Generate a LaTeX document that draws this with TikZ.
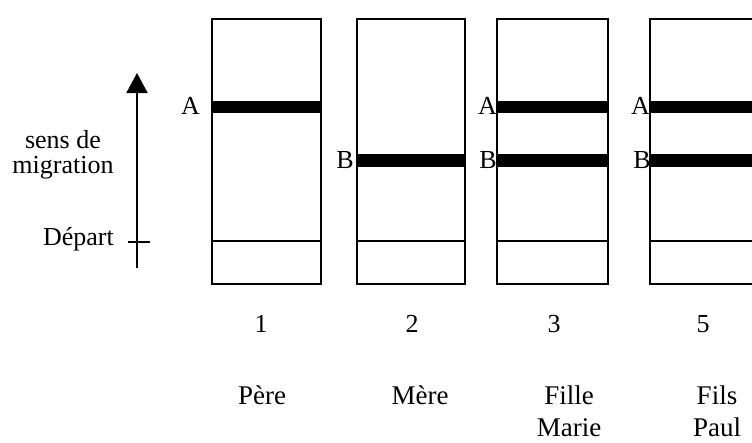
\documentclass[tikz,border=0pt]{standalone}
\usepackage{fontspec}
\setmainfont{Liberation Serif}
\usetikzlibrary{arrows.meta}
\begin{document}
\begin{tikzpicture}[x=1pt,y=-1pt,
  lanebox/.style={line width=1.8pt},
  startline/.style={line width=1.4pt},
  band/.style={fill=black},
  txt/.style={inner sep=0pt,font=\fontsize{26}{33}\selectfont},
  lbl/.style={txt,anchor=base east},
  ctr/.style={txt,anchor=base,align=center},
  namelbl/.style={ctr,font=\fontsize{27}{33}\selectfont}]
\useasboundingbox (0,0) rectangle (752,442);
\clip (0,0) rectangle (752,442);
% lanes
\foreach \l/\r [count=\i] in {212/321,357/465,497/608,650/762}{
  \draw[lanebox] (\l,19) rectangle (\r,284);
  \draw[startline] (\l,241) -- (\r,241);
}
% bands
\fill[band] (212,101) rectangle (321,113);
\fill[band] (357,154) rectangle (465,167);
\fill[band] (497,101) rectangle (608,113);
\fill[band] (497,154) rectangle (608,167);
\fill[band] (650,101) rectangle (762,113);
\fill[band] (650,154) rectangle (762,167);
% band labels
\node[lbl] (a1) at (200,114) {A};
\node[lbl] (b2) at (354,168) {B};
\node[lbl] (a3) at (497,114) {A};
\node[lbl] (b3) at (497,168) {B};
\node[lbl] (a4) at (650,114) {A};
\node[lbl] (b4) at (651,168) {B};
% migration arrow
\coordinate (arrbot) at (137,268);
\coordinate (arrtop) at (137,73);
\draw[line width=1.8pt,-{Triangle[width=21pt,length=20pt]}] (arrbot) -- (arrtop);
\coordinate (tickl) at (128,242);
\coordinate (tickr) at (150,242);
\draw[line width=1.4pt] (tickl) -- (tickr);
\node[ctr] (sens) at (63,148) {sens de};
\node[ctr] (migr) at (63,173) {migration};
\node[lbl] (depart) at (114,245) {Départ};
% numbers
\node[ctr] (n1) at (261,332) {1};
\node[ctr] (n2) at (412,332) {2};
\node[ctr] (n3) at (554,332) {3};
\node[ctr] (n5) at (703,332) {5};
% names
\node[namelbl] (pere) at (262,404) {Père};
\node[namelbl] (mere) at (420,404) {Mère};
\node[namelbl] (fille) at (569,404) {Fille};
\node[namelbl] (marie) at (569,436) {Marie};
\node[namelbl] (fils) at (717,404) {Fils};
\node[namelbl] (paul) at (717,436) {Paul};
\end{tikzpicture}
\end{document}
